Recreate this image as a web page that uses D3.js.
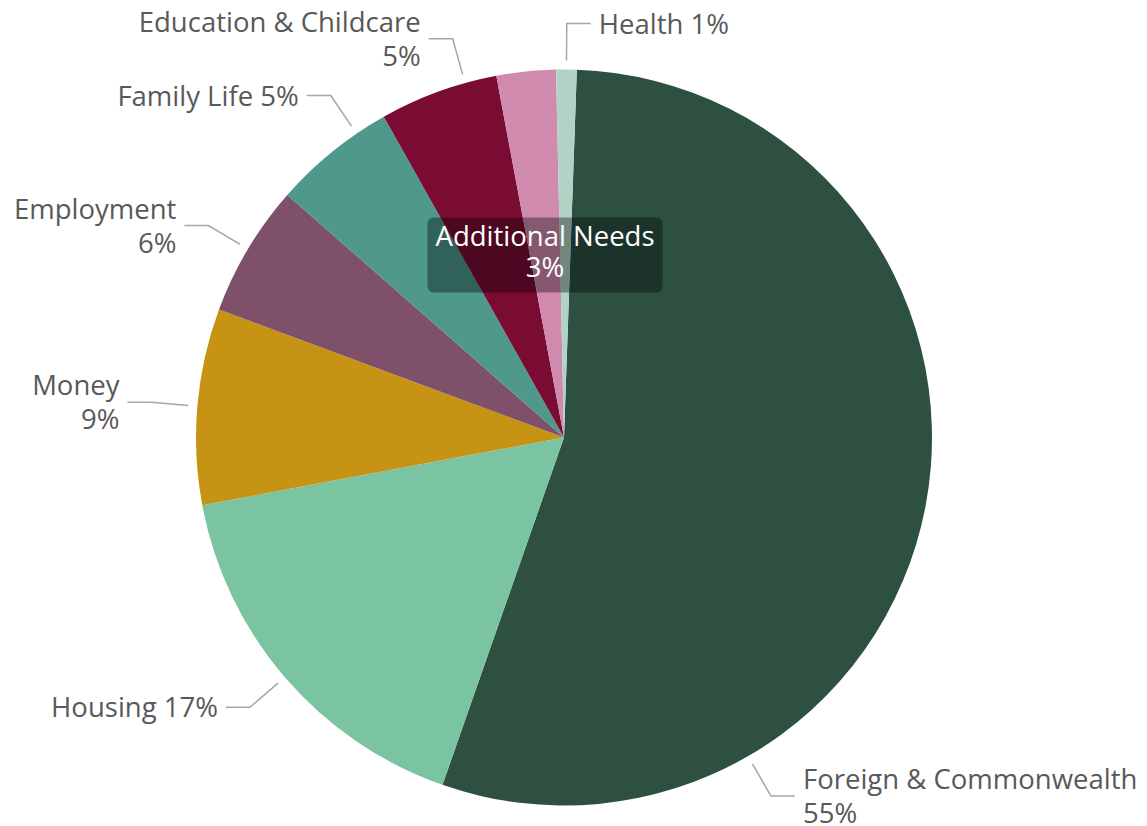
<!DOCTYPE html>
<html>
<head>
<meta charset="utf-8">
<script src="https://cdn.jsdelivr.net/npm/d3@7"></script>
<style>
  html, body { margin: 0; padding: 0; background: #fff; }
  svg { display: block; font-family: 'Open Sans', sans-serif; }
</style>
</head>
<body>
<div id="chart"></div>
<script>
/* ----------  DATA  ---------- */
const categories = [
  'Foreign & Commonwealth', 'Housing', 'Money', 'Employment',
  'Family Life', 'Education & Childcare', 'Additional Needs', 'Health'
]
const shares = [54.8, 16.7, 8.6, 5.8, 5.4, 5.2, 2.6, 0.9]
const colours = ['#2d5041', '#7ac4a2', '#c79314', '#7f506a', '#4e998c', '#7a0c33', '#d08aae', '#b1d3c5']

/* ----------  LAYOUT  ---------- */
const W = 1147
const H = 826
const cx = 564
const cy = 437.5
const R = 368
const START = 2 * Math.PI / 180 // first slice starts a little past 12 o'clock
const FONT = 27.5
const LINE_H = 34

// labels that were nudged away from their slice middle (degrees, clockwise from top)
const leaderAngle = { 'Foreign & Commonwealth': 150, 'Family Life': 325.7, 'Education & Childcare': 344.4 }
const wrapped = ['Foreign & Commonwealth', 'Education & Childcare', 'Employment', 'Money']
const tooltipFor = 'Additional Needs'

const svg = d3.select('#chart').append('svg')
  .attr('width', W)
  .attr('height', H)

const g = svg.append('g').attr('transform', `translate(${cx},${cy})`)

const rows = categories.map((c, i) => ({ name: c, value: shares[i], colour: colours[i] }))
const total = d3.sum(shares)
const pct = v => Math.round(v / total * 100) + '%'

const pie = d3.pie()
  .value(d => d.value)
  .sort(null)
  .startAngle(START)
  .endAngle(START + 2 * Math.PI)

const arc = d3.arc().innerRadius(0).outerRadius(R)
const arcs = pie(rows)

/* ----------  SLICES  ---------- */
g.selectAll('path.slice')
  .data(arcs)
  .join('path')
  .attr('class', 'slice')
  .attr('d', arc)
  .attr('fill', d => d.data.colour)

/* ----------  LABELS + LEADER LINES  ---------- */
const polar = (a, r) => [r * Math.sin(a), -r * Math.cos(a)]

arcs.filter(d => d.data.name !== tooltipFor).forEach(d => {
  const name = d.data.name
  const a = leaderAngle[name] != null
    ? leaderAngle[name] * Math.PI / 180
    : (d.startAngle + d.endAngle) / 2
  const right = Math.sin(a) >= -0.001
  const p0 = polar(a, R + 9)
  const p1 = polar(a, R + 46)
  const p2 = [p1[0] + (right ? 24 : -24), p1[1]]

  g.append('polyline')
    .attr('points', [p0, p1, p2].map(p => p.join(',')).join(' '))
    .attr('fill', 'none')
    .attr('stroke', '#a6a6a6')
    .attr('stroke-width', 1.5)

  const lines = wrapped.includes(name) ? [name, pct(d.value)] : [name + ' ' + pct(d.value)]
  const tx = p2[0] + (right ? 8 : -8)
  const y0 = p2[1] + 10 - (lines.length - 1) * LINE_H / 2

  const t = g.append('text')
    .attr('text-anchor', right ? 'start' : 'end')
    .style('font-size', FONT + 'px')
    .attr('fill', '#595959')
  lines.forEach((l, i) => {
    t.append('tspan').attr('x', tx).attr('y', y0 + i * LINE_H).text(l)
  })
})

/* ----------  HOVER TOOLTIP (shown for Additional Needs)  ---------- */
// arc centroid sits halfway out along the slice middle
const tipArc = arcs.find(d => d.data.name === tooltipFor)
const [tx, ty] = arc.centroid(tipArc)
const tip = g.append('g').attr('transform', `translate(${tx},${ty})`)
const tipBg = tip.append('rect')
const tipText = tip.append('text')
  .attr('text-anchor', 'middle')
  .attr('fill', '#fff')
  .style('font-size', FONT + 'px')
tipText.append('tspan').attr('x', 0).attr('y', -8).text(tipArc.data.name)
tipText.append('tspan').attr('x', 0).attr('y', 23).text(pct(tipArc.value))

const bb = tipText.node().getBBox()
tipBg
  .attr('x', bb.x - 8)
  .attr('y', -37)
  .attr('width', bb.width + 16)
  .attr('height', 75)
  .attr('rx', 6)
  .attr('fill', 'rgba(0,0,0,0.36)')
</script>
</body>
</html>
